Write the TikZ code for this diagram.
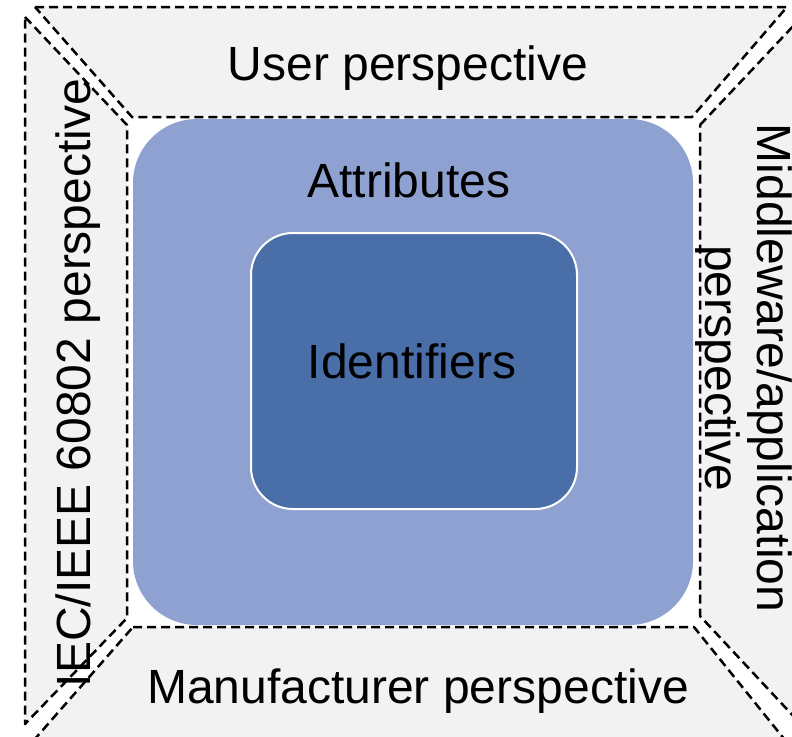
\documentclass[tikz,border=0pt]{standalone}
\usepackage{fontspec}
\setmainfont{Liberation Sans}
\definecolor{myGray}{RGB}{242,242,242}
\definecolor{attrBlue}{RGB}{142,161,209}
\definecolor{idBlue}{RGB}{74,110,167}
\usetikzlibrary{positioning}
\tikzset{
  persp/.style={draw=black, fill=myGray, line width=1.25pt, dash pattern=on 4.5pt off 2.5pt, line join=round},
  attrbox/.style={fill=attrBlue, rounded corners=32pt, inner sep=0pt, minimum width=280pt, minimum height=253pt},
  idbox/.style={fill=idBlue, draw=white, line width=1pt, rounded corners=21pt, inner sep=0pt, minimum width=163pt, minimum height=138pt},
  txt/.style={font=\fontsize{24}{26}\selectfont, inner sep=0pt}
}

\begin{document}
\begin{tikzpicture}[x=0.5pt,y=-0.5pt]
                \useasboundingbox (0,0) rectangle (792,736);
                \clip (0,0) rectangle (792,736);
                \fill[white] (0,0) rectangle (792,736);

                \draw[persp] (35,7) -- (787,7) -- (692,117) -- (132,117) -- cycle;
                \draw[persp] (25,17) -- (127,125) -- (127,618) -- (25,724) -- cycle;
                \draw[persp] (133,627) -- (694,627) -- (785,740) -- (34,740) -- cycle;
                \draw[persp] (700,125) -- (797,22) -- (797,720) -- (700,616) -- cycle;

                \node[attrbox] (attr) at (413,372) {};
                \node[idbox] (ident) at (414,371) {};

                \node[txt, anchor=base] (attrtext) at (409,197) {Attributes};
                \node[txt, anchor=base] (idtext) at (412,378) {Identifiers};
                \node[txt, anchor=base] (user) at (408,80) {User perspective};
                \node[txt, anchor=base] (manu) at (418,703) {Manufacturer perspective};
                \node[txt, anchor=base, rotate=90] (iec) at (90,383) {IEC/IEEE 60802 perspective};
                \node[txt, rotate=-90, align=center] (mw) at (744,368) {Middleware/application\\perspective};
\end{tikzpicture}
\end{document}
